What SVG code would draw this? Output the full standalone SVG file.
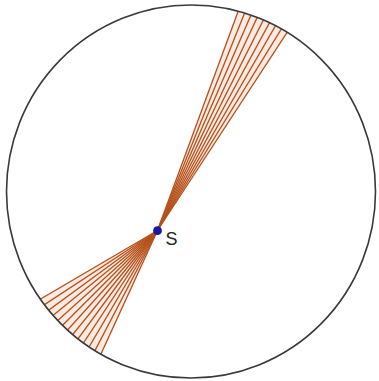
<svg xmlns="http://www.w3.org/2000/svg" width="379" height="381" viewBox="0 0 379 381">
<defs>
<style>
.ray{stroke:#b5521c;stroke-width:1.35;fill:none}
.wedge{fill:#fdebe3;stroke:none}
.rim{fill:none;stroke:#3a3a3a;stroke-width:1.6}
.lbl{font-family:"Liberation Sans",Arial,sans-serif;font-size:18px;fill:#222}
</style>
<clipPath id="disk"><ellipse cx="191" cy="191.5" rx="184.5" ry="186.5"/></clipPath>
<line id="r" class="ray" x1="0" y1="0" x2="300" y2="0"/>
</defs>
<rect width="379" height="381" fill="#fff"/>
<g id="connectors" clip-path="url(#disk)">
<g id="upper-beam" transform="translate(157.5,230.5)">
<polygon class="wedge" points="0,0 103.6,-281.6 164.3,-251"/>
<use href="#r" transform="rotate(-69.8)"/>
<use href="#r" transform="rotate(-68.175)"/>
<use href="#r" transform="rotate(-66.55)"/>
<use href="#r" transform="rotate(-64.925)"/>
<use href="#r" transform="rotate(-63.3)"/>
<use href="#r" transform="rotate(-61.675)"/>
<use href="#r" transform="rotate(-60.05)"/>
<use href="#r" transform="rotate(-58.425)"/>
<use href="#r" transform="rotate(-56.8)"/>
</g>
<g id="lower-beam" transform="translate(157.5,230.5)">
<polygon class="wedge" points="0,0 -258.9,151.6 -124.9,272.8"/>
<use href="#r" transform="rotate(114.6)"/>
<use href="#r" transform="rotate(117.52)"/>
<use href="#r" transform="rotate(120.44)"/>
<use href="#r" transform="rotate(123.36)"/>
<use href="#r" transform="rotate(126.28)"/>
<use href="#r" transform="rotate(129.2)"/>
<use href="#r" transform="rotate(132.12)"/>
<use href="#r" transform="rotate(135.05)"/>
<use href="#r" transform="rotate(137.97)"/>
<use href="#r" transform="rotate(140.89)"/>
<use href="#r" transform="rotate(143.81)"/>
<use href="#r" transform="rotate(146.73)"/>
<use href="#r" transform="rotate(149.65)"/>
</g>
</g>
<g id="circle"><ellipse class="rim" cx="191" cy="191.5" rx="184.5" ry="186.5"/></g>
<g id="S">
<circle cx="157.5" cy="230.7" r="4.4" fill="#1717a6"/>
<text class="lbl" x="165.5" y="245">S</text>
</g>
</svg>
